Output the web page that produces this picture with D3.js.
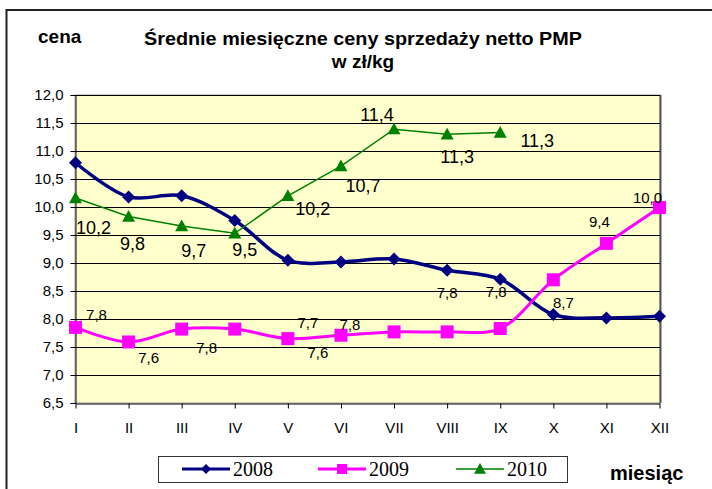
<!DOCTYPE html>
<html>
<head>
<meta charset="utf-8">
<title>Średnie miesięczne ceny sprzedaży netto PMP</title>
<script src="https://d3js.org/d3.v7.min.js"></script>
<style>
body { margin: 0; background: #fff; }
svg { display: block; font-family: "Liberation Sans", Arial, sans-serif; }
.tick text { font-size: 15px; fill: #000; font-family: "Liberation Sans", Arial, sans-serif; }
</style>
</head>
<body>
<svg id="chart" width="712" height="489"></svg>
<script>
// data
var months = ["I", "II", "III", "IV", "V", "VI", "VII", "VIII", "IX", "X", "XI", "XII"];
var v2008 = [10.79, 10.18, 10.20, 9.76, 9.05, 9.02, 9.07, 8.87, 8.71, 8.08, 8.02, 8.05];
var v2009 = [7.85, 7.59, 7.82, 7.82, 7.65, 7.71, 7.77, 7.77, 7.83, 8.70, 9.35, 9.99];
var v2010 = [10.16, 9.83, 9.66, 9.53, 10.20, 10.73, 11.39, 11.30, 11.33];
var yTicks = [6.5, 7.0, 7.5, 8.0, 8.5, 9.0, 9.5, 10.0, 10.5, 11.0, 11.5, 12.0];

// data label texts (as printed) and the point they belong to
var lab2009Idx = [0, 1, 2, 4, 5, 6, 7, 8, 9, 10, 11];
var lab2009Txt = ["7,8", "7,6", "7,8", "7,7", "7,6", "7,8", "7,8", "7,8", "8,7", "9,4", "10,0"];
var lab2010Txt = ["10,2", "9,8", "9,7", "9,5", "10,2", "10,7", "11,4", "11,3", "11,3"];

// label offsets from their point (layout only)
var off2009 = [[21,-7],[20,21],[25,24],[20,-11],[-23,23],[-44,-2],[0,-34],[-4,-32],[10,28],[-7,-16],[-12,-5]];
var off2010 = [[18,36],[4,33],[12,31],[10,23],[25,19],[22,26],[-17,-8],[10,29],[37,14]];

var svg = d3.select("#chart");

// outer frame
svg.append("rect")
  .attr("x", 6.5).attr("y", 10)
  .attr("width", 730).attr("height", 500)
  .attr("fill", "#fff").attr("stroke", "#222").attr("stroke-width", 2);

var plotL = 75, plotR = 660, plotT = 95, plotB = 403;

var x = d3.scalePoint().domain(months).range([plotL + 0.5, plotR - 0.5]);
var y = d3.scaleLinear().domain([6.5, 12]).range([plotB, plotT]);

// plot area
svg.append("rect")
  .attr("x", plotL).attr("y", plotT)
  .attr("width", plotR - plotL).attr("height", plotB - plotT)
  .attr("fill", "#ffffcc").attr("stroke", "#9a9a9a").attr("stroke-width", 1);
svg.append("line")
  .attr("x1", plotR + 0.5).attr("x2", plotR + 0.5)
  .attr("y1", plotT).attr("y2", plotB)
  .attr("stroke", "#555").attr("stroke-width", 2);

// gridlines
svg.append("g")
  .selectAll("line")
  .data(yTicks.slice(1))
  .join("line")
  .attr("x1", plotL).attr("x2", plotR)
  .attr("y1", function(d){ return Math.round(y(d)) + 0.5; })
  .attr("y2", function(d){ return Math.round(y(d)) + 0.5; })
  .attr("stroke", "#000").attr("stroke-width", 1);

// axes
var yAxis = d3.axisLeft(y)
  .tickValues(yTicks)
  .tickSize(5).tickPadding(7)
  .tickFormat(function(d){ return d3.format(".1f")(d).replace(".", ","); });
svg.append("g")
  .attr("transform", "translate(" + (plotL + 0.5) + ",0)")
  .call(yAxis)
  .call(function(g){ g.selectAll("line, path").attr("stroke", "#000"); });

var xAxis = d3.axisBottom(x).tickSize(5).tickPadding(14).tickSizeOuter(0);
svg.append("g")
  .attr("transform", "translate(0," + (plotB + 0.5) + ")")
  .call(xAxis)
  .call(function(g){ g.selectAll("line, path").attr("stroke", "#000"); });

// marker shapes
function diamond(r){ return "M0," + (-r) + "L" + r + ",0L0," + r + "L" + (-r) + ",0Z"; }
function square(r){ return "M" + (-r) + "," + (-r) + "h" + (2*r) + "v" + (2*r) + "h" + (-2*r) + "Z"; }
function triangle(r){ return "M0," + (-r) + "L" + r + "," + (r*0.8) + "L" + (-r) + "," + (r*0.8) + "Z"; }

var series = [
  { name: "2008", vals: v2008, color: "#000080", width: 3.5, curve: d3.curveCatmullRom.alpha(0.5), mark: diamond, r: 6.5, lr: 5 },
  { name: "2009", vals: v2009, color: "#ff00ff", width: 3, curve: d3.curveCatmullRom.alpha(0.5), mark: square, r: 6.5, lr: 5 },
  { name: "2010", vals: v2010, color: "#008000", width: 1.5, curve: d3.curveLinear, mark: triangle, r: 6.5, lr: 6 }
];

series.forEach(function(s){
  var line = d3.line()
    .x(function(d, i){ return x(months[i]); })
    .y(function(d){ return y(d); })
    .curve(s.curve);
  svg.append("path")
    .datum(s.vals)
    .attr("d", line)
    .attr("fill", "none")
    .attr("stroke", s.color)
    .attr("stroke-width", s.width);
  svg.append("g")
    .selectAll("path")
    .data(s.vals)
    .join("path")
    .attr("transform", function(d, i){ return "translate(" + x(months[i]) + "," + y(d) + ")"; })
    .attr("d", s.mark(s.r))
    .attr("fill", s.color);
});

// data labels
svg.append("g")
  .selectAll("text")
  .data(lab2009Txt)
  .join("text")
  .attr("x", function(d, k){ return x(months[lab2009Idx[k]]) + off2009[k][0]; })
  .attr("y", function(d, k){ return y(v2009[lab2009Idx[k]]) + off2009[k][1]; })
  .attr("text-anchor", "middle")
  .attr("font-size", 15)
  .text(function(d){ return d; });

svg.append("g")
  .selectAll("text")
  .data(lab2010Txt)
  .join("text")
  .attr("x", function(d, i){ return x(months[i]) + off2010[i][0]; })
  .attr("y", function(d, i){ return y(v2010[i]) + off2010[i][1]; })
  .attr("text-anchor", "middle")
  .attr("font-size", 18)
  .text(function(d){ return d; });

// titles
svg.append("text")
  .attr("x", 363).attr("y", 45)
  .attr("text-anchor", "middle")
  .attr("font-size", 19).attr("font-weight", "bold")
  .attr("textLength", 438).attr("lengthAdjust", "spacingAndGlyphs")
  .text("Średnie miesięczne ceny sprzedaży netto PMP");
svg.append("text")
  .attr("x", 363).attr("y", 68)
  .attr("text-anchor", "middle")
  .attr("font-size", 19).attr("font-weight", "bold")
  .text("w zł/kg");
svg.append("text")
  .attr("x", 38).attr("y", 43)
  .attr("font-size", 19).attr("font-weight", "bold")
  .text("cena");
svg.append("text")
  .attr("x", 610).attr("y", 480)
  .attr("font-size", 20).attr("font-weight", "bold")
  .text("miesiąc");

// legend
var legend = svg.append("g");
legend.append("rect")
  .attr("x", 158.5).attr("y", 456.5)
  .attr("width", 409).attr("height", 26)
  .attr("fill", "#fff").attr("stroke", "#333").attr("stroke-width", 1);
var legX = [182, 318, 456];
series.forEach(function(s, i){
  var g = legend.append("g").attr("transform", "translate(" + legX[i] + ",469)");
  g.append("line")
    .attr("x1", 0).attr("x2", 48)
    .attr("stroke", s.color)
    .attr("stroke-width", s.width > 2 ? 3 : 2)
    .attr("stroke-opacity", s.width > 2 ? 1 : 0.75);
  g.append("path")
    .attr("transform", "translate(24,0)")
    .attr("d", s.mark(s.lr))
    .attr("fill", s.color);
  g.append("text")
    .attr("x", 51).attr("y", 7)
    .attr("font-family", "'Liberation Serif', 'Times New Roman', serif")
    .attr("font-size", 20)
    .text(s.name);
});
</script>
</body>
</html>
